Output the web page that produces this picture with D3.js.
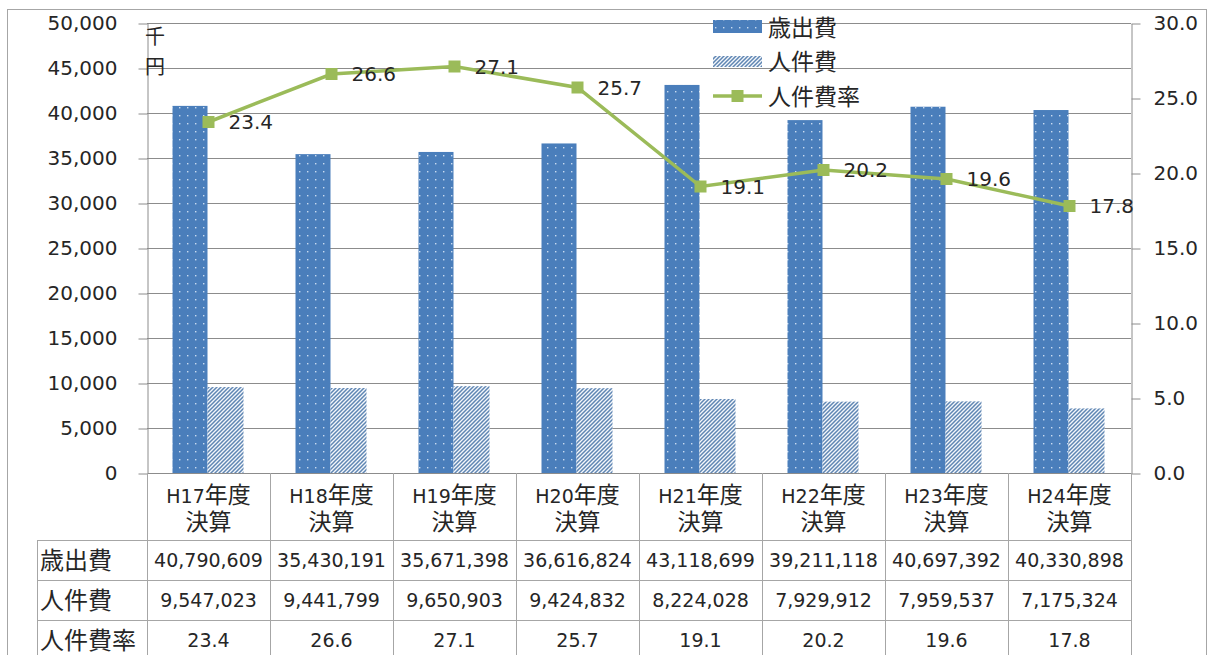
<!DOCTYPE html>
<html><head><meta charset="utf-8">
<script src="https://cdn.jsdelivr.net/npm/d3@7"></script>
<style>
body{margin:0;background:#fff;}
svg text{font-family:"DejaVu Sans","Noto Sans CJK JP",sans-serif;fill:#262626;}
</style></head>
<body><svg id="c" width="1213" height="655"></svg>
<script>
const categories = ["H17年度決算","H18年度決算","H19年度決算","H20年度決算","H21年度決算","H22年度決算","H23年度決算","H24年度決算"];
const catLine1 = ["H17年度","H18年度","H19年度","H20年度","H21年度","H22年度","H23年度","H24年度"];
const catLine2 = ["決算","決算","決算","決算","決算","決算","決算","決算"];
const expenditure = [40790609,35430191,35671398,36616824,43118699,39211118,40697392,40330898];
const personnel = [9547023,9441799,9650903,9424832,8224028,7929912,7959537,7175324];
const ratio = [23.4,26.6,27.1,25.7,19.1,20.2,19.6,17.8];
const leftTicks = [0,5000,10000,15000,20000,25000,30000,35000,40000,45000,50000];
const rightTicks = [0,5,10,15,20,25,30];
const seriesNames = ["歳出費","人件費","人件費率"];

const svg = d3.select("#c");
const X0=147, X1=1131, Y0=23, Y1=473;
const x = d3.scaleBand().domain(categories).range([X0,X1]).padding(0);
const yL = d3.scaleLinear().domain([0,50000]).range([Y1,Y0]);
const yR = d3.scaleLinear().domain([0,30]).range([Y1,Y0]);
const gridCol="#8c8c8c";

// text helper: latin and CJK runs at different sizes
function mixText(g, str, latin, cjk){
  const t = g.append("text");
  const runs = str.match(/[\u3000-\u9fff\uff00-\uffef]+|[^\u3000-\u9fff\uff00-\uffef]+/g) || [];
  runs.forEach(r=>{
    const isC = /[\u3000-\u9fff\uff00-\uffef]/.test(r);
    t.append("tspan").attr("font-size",isC?cjk:latin).text(r);
  });
  return t;
}

// defs patterns
const defs = svg.append("defs");
const pd = defs.append("pattern").attr("id","dots").attr("patternUnits","userSpaceOnUse").attr("width",8).attr("height",8);
pd.append("rect").attr("width",8).attr("height",8).attr("fill","#4a7ebb");
pd.append("rect").attr("x",3).attr("y",3).attr("width",1.4).attr("height",1.4).attr("fill","#c9dbf0");
const ph = defs.append("pattern").attr("id","hatch").attr("patternUnits","userSpaceOnUse").attr("width",4).attr("height",4);
ph.append("rect").attr("width",4).attr("height",4).attr("fill","#f4f7fb");
ph.append("path").attr("d","M-1,1 l2,-2 M0,4 l4,-4 M3,5 l2,-2").attr("stroke","#5f86b3").attr("stroke-width",1.5);

// outer border
svg.append("rect").attr("x",7.5).attr("y",9.5).attr("width",1199).attr("height",670).attr("fill","none").attr("stroke","#a6a6a6");

// gridlines
svg.append("g").selectAll("line").data(leftTicks).join("line")
  .attr("x1",X0).attr("x2",X1).attr("y1",d=>Math.round(yL(d))+0.5).attr("y2",d=>Math.round(yL(d))+0.5)
  .attr("stroke",gridCol).attr("stroke-width",1);

// left axis
const ga = svg.append("g").attr("transform",`translate(${X0+0.5},0.5)`)
  .call(d3.axisLeft(yL).tickValues(leftTicks).tickFormat(d3.format(",")).tickSizeInner(9).tickSizeOuter(0).tickPadding(21));
ga.selectAll("path,line").attr("stroke",gridCol);
ga.selectAll("text").attr("font-size",20).attr("font-family",null).attr("fill","#262626");

// right axis
const gr = svg.append("g").attr("transform",`translate(${X1+0.5},0.5)`)
  .call(d3.axisRight(yR).tickValues(rightTicks).tickFormat(d3.format(".1f")).tickSizeInner(9).tickSizeOuter(0).tickPadding(13));
gr.selectAll("path,line").attr("stroke",gridCol);
gr.selectAll("text").attr("font-size",20).attr("font-family",null).attr("fill","#262626");

// bars
const bw = 35;
svg.append("g").selectAll("rect").data(expenditure).join("rect")
  .attr("x",(d,i)=>x(categories[i])+x.bandwidth()/2-bw-1).attr("width",bw)
  .attr("y",d=>yL(d/1000)).attr("height",d=>Y1-yL(d/1000)).attr("fill","url(#dots)");
svg.append("g").selectAll("rect").data(personnel).join("rect")
  .attr("x",(d,i)=>x(categories[i])+x.bandwidth()/2-1).attr("width",bw+1)
  .attr("y",d=>yL(d/1000)).attr("height",d=>Y1-yL(d/1000)).attr("fill","url(#hatch)");

// x axis line
svg.append("line").attr("x1",X0).attr("x2",X1).attr("y1",Y1+0.5).attr("y2",Y1+0.5).attr("stroke",gridCol);

// line
const cx = i=>x(categories[i])+x.bandwidth()/2;
svg.append("path").datum(ratio).attr("fill","none").attr("stroke","#9bbb59").attr("stroke-width",3.5)
  .attr("d",d3.line().x((d,i)=>cx(i)).y(d=>yR(d)));
svg.append("g").selectAll("rect").data(ratio).join("rect")
  .attr("x",(d,i)=>cx(i)-6).attr("y",d=>yR(d)-6).attr("width",12).attr("height",12).attr("fill","#9bbb59");
svg.append("g").selectAll("text").data(ratio).join("text")
  .attr("x",(d,i)=>cx(i)+20).attr("y",d=>yR(d)).attr("dy","0.36em").attr("font-size",20)
  .text(d=>d3.format(".1f")(d));

// unit label
svg.append("text").attr("x",155).attr("y",44).attr("font-size",20).attr("text-anchor","middle").text("千");
svg.append("text").attr("x",155).attr("y",74).attr("font-size",20).attr("text-anchor","middle").text("円");

// legend
const lg = svg.append("g");
const lx=713, lw=49;
lg.append("rect").attr("x",lx).attr("y",20).attr("width",lw).attr("height",13).attr("fill","url(#dots)");
lg.append("rect").attr("x",lx).attr("y",56).attr("width",lw).attr("height",11).attr("fill","url(#hatch)");
lg.append("line").attr("x1",lx).attr("x2",lx+lw).attr("y1",96).attr("y2",96).attr("stroke","#9bbb59").attr("stroke-width",3.5);
lg.append("rect").attr("x",lx+lw/2-6).attr("y",90).attr("width",12).attr("height",12).attr("fill","#9bbb59");
[27,61,96].forEach((yy,i)=>{
  lg.append("text").attr("x",768).attr("y",yy).attr("dy","0.38em").attr("font-size",23).text(seriesNames[i]);
});

// table
const tb = svg.append("g");
const TL=37, rowY=[540,580,620,660];
const tcol="#a6a6a6";
d3.range(categories.length+1).forEach(i=>{
  const xx = Math.round(X0 + i*x.bandwidth())+0.5;
  tb.append("line").attr("x1",xx).attr("x2",xx).attr("y1",Y1).attr("y2",660).attr("stroke",tcol);
});
tb.append("line").attr("x1",TL+0.5).attr("x2",TL+0.5).attr("y1",rowY[0]).attr("y2",660).attr("stroke",tcol);
rowY.slice(0,3).forEach(yy=>{
  tb.append("line").attr("x1",TL).attr("x2",X1).attr("y1",yy+0.5).attr("y2",yy+0.5).attr("stroke",tcol);
});
categories.forEach((c,i)=>{
  mixText(tb, catLine1[i], 19, 23).attr("x",cx(i)).attr("y",497).attr("dy","0.36em").attr("text-anchor","middle");
  mixText(tb, catLine2[i], 19, 23).attr("x",cx(i)).attr("y",524).attr("dy","0.36em").attr("text-anchor","middle");
});
const rows = [
  {name:seriesNames[0], vals:expenditure.map(d3.format(","))},
  {name:seriesNames[1], vals:personnel.map(d3.format(","))},
  {name:seriesNames[2], vals:ratio.map(d3.format(".1f"))}
];
rows.forEach((r,ri)=>{
  const yy = (rowY[ri]+rowY[ri+1])/2;
  tb.append("text").attr("x",40).attr("y",yy).attr("dy","0.38em").attr("font-size",24).text(r.name);
  r.vals.forEach((v,i)=>{
    tb.append("text").attr("x",cx(i)).attr("y",yy).attr("dy","0.36em").attr("text-anchor","middle").attr("font-size",19).text(v);
  });
});
</script></body></html>
